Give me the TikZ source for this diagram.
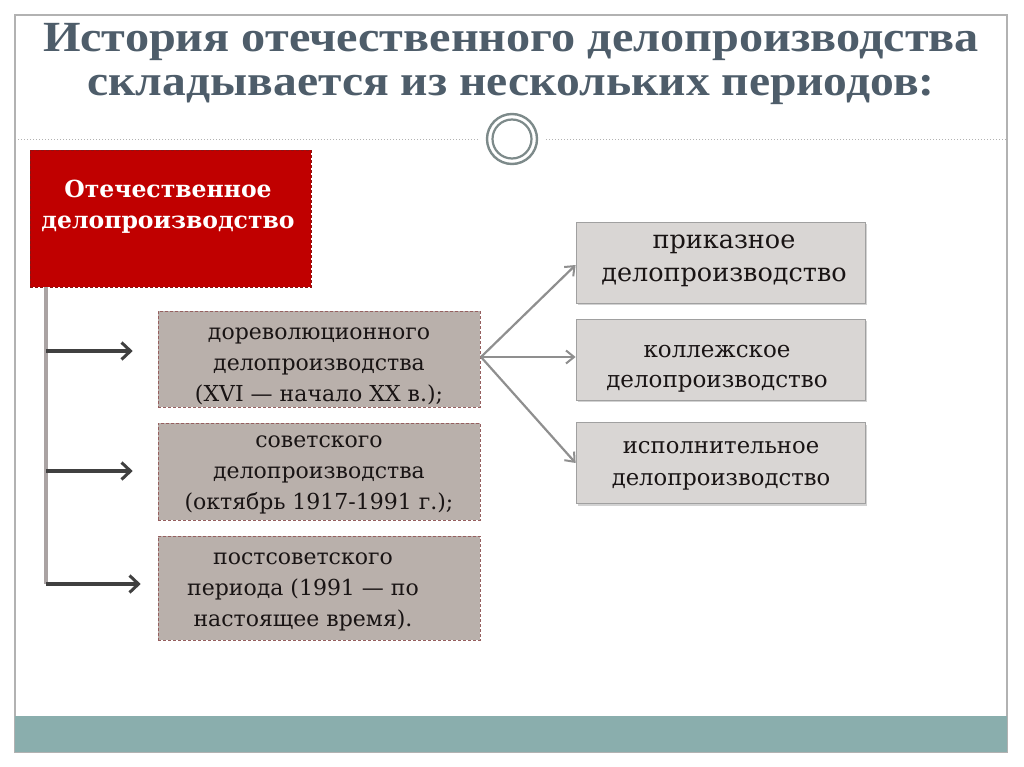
\documentclass[tikz,border=0pt]{standalone}
\usepackage{fontspec}
\setmainfont{DejaVu Serif}
\newfontfamily\titlefont{Liberation Serif}
\usetikzlibrary{arrows.meta,shadows}
\definecolor{titlecol}{RGB}{78,93,106}
\definecolor{framecol}{RGB}{178,178,178}
\definecolor{tealbar}{RGB}{138,174,173}
\definecolor{redfill}{RGB}{192,0,0}
\definecolor{redline}{RGB}{140,20,20}
\definecolor{taupe}{RGB}{185,176,171}
\definecolor{taupeline}{RGB}{150,95,95}
\definecolor{lightbox}{RGB}{217,214,212}
\definecolor{lightline}{RGB}{160,160,160}
\definecolor{ringcol}{RGB}{125,138,138}
\definecolor{trunkcol}{RGB}{170,163,163}
\definecolor{darkarrow}{RGB}{64,64,64}
\definecolor{greyarrow}{RGB}{143,143,143}
\definecolor{bodytext}{RGB}{25,20,20}
\tikzset{
  redbox/.style={draw=redline, densely dashed, line width=0.6pt, fill=redfill, inner sep=0pt},
  periodbox/.style={draw=taupeline, densely dashed, line width=0.6pt, fill=taupe, inner sep=0pt,
    minimum width=322pt, text=bodytext, font=\fontsize{22}{31}\selectfont, align=center},
  kindbox/.style={draw=lightline, line width=0.8pt, fill=lightbox, inner sep=0pt,
    minimum width=289pt, minimum height=81pt, align=center, text=bodytext,
    drop shadow={shadow xshift=2pt, shadow yshift=-2pt, opacity=0.35, fill=gray}},
  trunk/.style={draw=trunkcol, line width=4pt},
  darrow/.style={draw=darkarrow, line width=3.5pt, -{Straight Barb[length=9pt,width=17pt,line width=3pt]}},
  garrow/.style={draw=greyarrow, line width=2.2pt, -{Straight Barb[length=8pt,width=13pt,line width=2pt]}},
  titletext/.style={text=titlecol, font=\titlefont\fontsize{43}{48}\selectfont\bfseries, inner sep=0pt},
  redtext/.style={text=white, font=\fontsize{23.5}{31}\selectfont\bfseries, align=center, inner sep=0pt},
}
\begin{document}
\begin{tikzpicture}[x=1pt,y=-1pt]
\useasboundingbox (0,0) rectangle (1024,767);
\fill[white] (0,0) rectangle (1024,767);
% frame and bottom bar
\draw[framecol, line width=1.4pt] (15,15) rectangle (1007,752);
\fill[tealbar] (15,716) rectangle (1007,752);
% title
\node[titletext] (t1) at (511,42) {\resizebox{936pt}{\height}{История отечественного делопроизводства}};
\node[titletext] (t2) at (511,90) {\resizebox{847pt}{\height}{складывается из нескольких периодов:}};
% separator with ring
\draw[framecol, dotted, line width=1pt] (15,140) -- (479,140);
\draw[framecol, dotted, line width=1pt] (546,140) -- (1007,140);
\draw[ringcol, line width=2.4pt, fill=white] (512,139) circle (25);
\draw[ringcol, line width=2.2pt] (512,139) circle (19.5);
% red box
\node[redbox, minimum width=281pt, minimum height=137pt] (red) at (170.5,218.5) {};
\node[redtext] (redt) at (168,207) {Отечественное\\делопроизводство};
% period boxes
\node[periodbox, minimum height=96pt] (p1) at (319,359) {};
\node[periodbox, minimum height=97pt] (p2) at (319,471.5) {};
\node[periodbox, minimum height=104pt] (p3) at (319,588) {};
\node[periodbox, draw=none, fill=none, minimum width=0pt] (p1t) at (319,366) {дореволюционного\\делопроизводства\\(XVI — начало XX в.);};
\node[periodbox, draw=none, fill=none, minimum width=0pt] (p2t) at (319,475) {советского\\делопроизводства\\(октябрь 1917-1991 г.);};
\node[periodbox, draw=none, fill=none, minimum width=0pt] (p3t) at (303,592) {постсоветского\\периода (1991 — по\\настоящее время).};
% kind boxes
\node[kindbox] (k1) at (720.5,262.5) {};
\node[kindbox] (k2) at (720.5,359.5) {};
\node[kindbox] (k3) at (720.5,463) {};
\node[align=center, inner sep=0pt, text=bodytext, font=\fontsize{25.5}{33}\selectfont] (k1t) at (724,260.5) {приказное\\делопроизводство};
\node[align=center, inner sep=0pt, text=bodytext, font=\fontsize{23}{30}\selectfont] (k2t) at (717,369) {коллежское\\делопроизводство};
\node[align=center, inner sep=0pt, text=bodytext, font=\fontsize{22.7}{32}\selectfont] (k3t) at (721,465.5) {исполнительное\\делопроизводство};
% trunk and dark arrows
\coordinate (j0) at (46,287);
\coordinate (j1) at (46,351);
\coordinate (j2) at (46,471);
\coordinate (j3) at (46,584);
\draw[trunk] (j0) -- (j3);
\draw[darrow, shorten >=25pt] (j1) -- (j1 -| p1.west);
\draw[darrow, shorten >=25pt] (j2) -- (j2 -| p2.west);
\draw[darrow, shorten >=17pt] (j3) -- (j3 -| p3.west);
% grey arrows
\coordinate (src) at (481,357);
\draw[garrow] (src) -- (k1.west |- 0,265);
\draw[garrow] (src) -- (k2.west |- 0,357);
\draw[garrow] (src) -- (k3.west |- 0,463);
\end{tikzpicture}
\end{document}
